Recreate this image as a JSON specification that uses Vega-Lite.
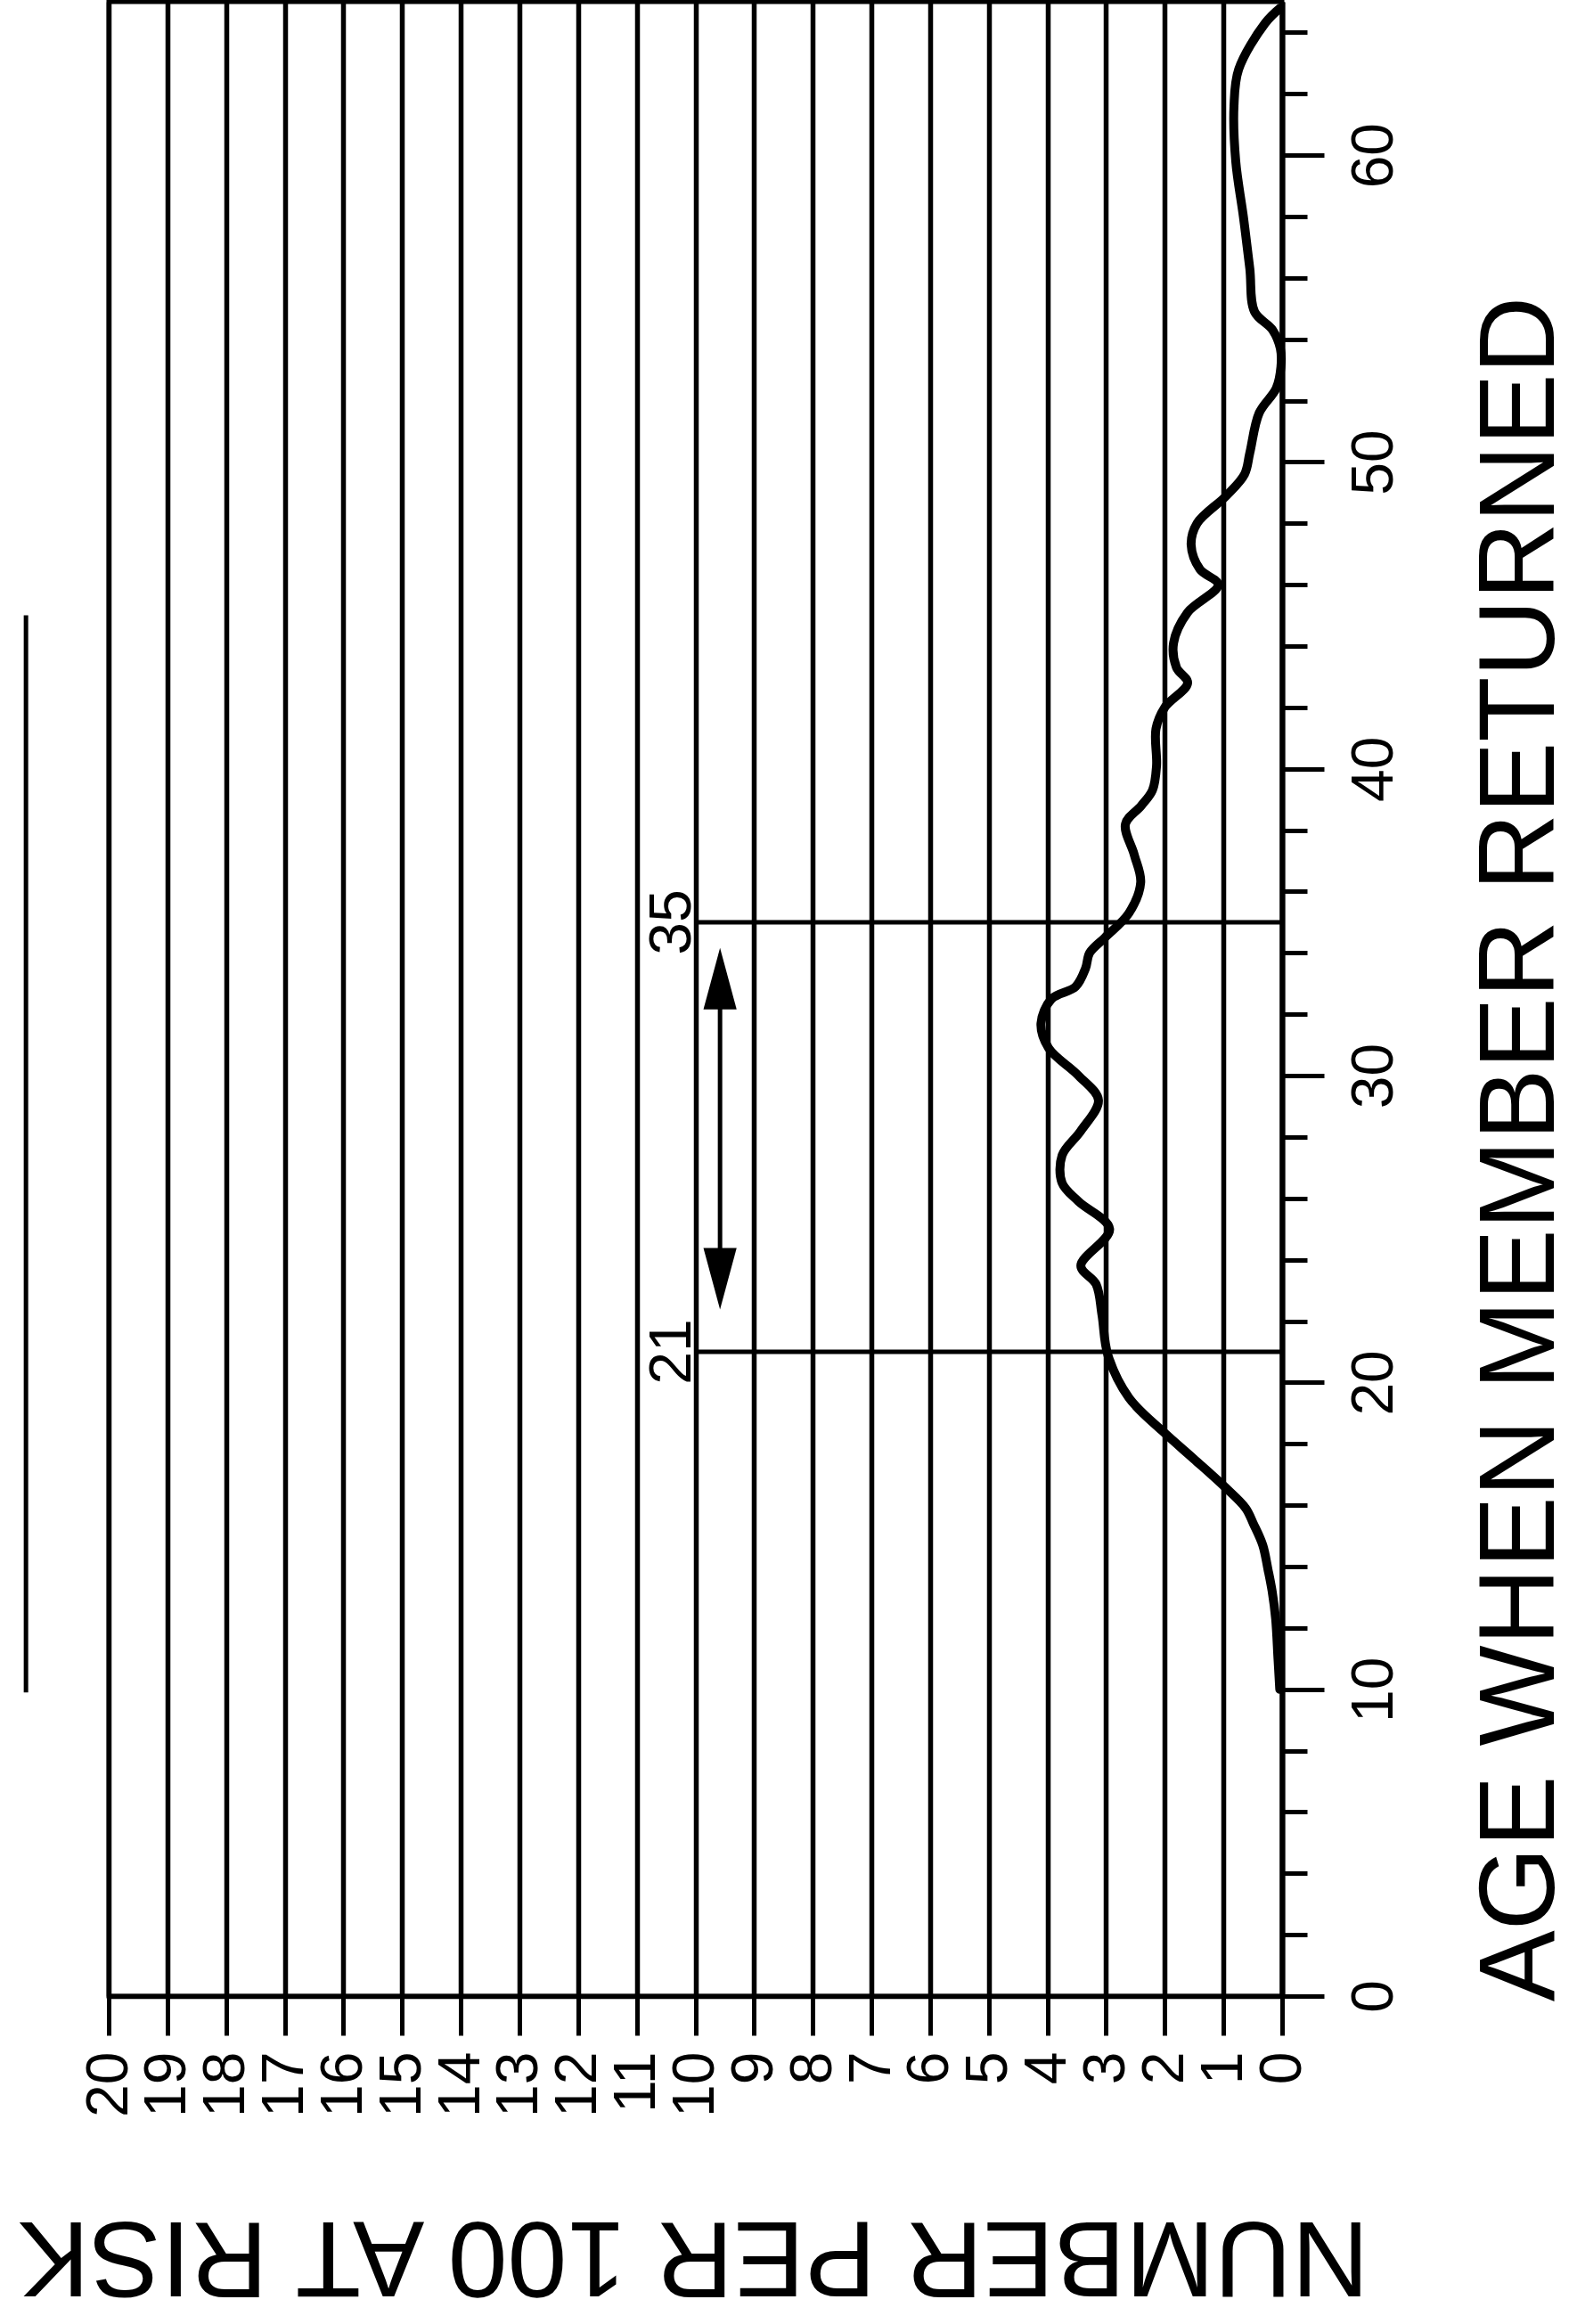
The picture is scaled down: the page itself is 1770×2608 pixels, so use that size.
{
  "$schema": "https://vega.github.io/schema/vega-lite/v6.json",
  "width": 1317,
  "height": 2238,
  "autosize": {"type": "none"},
  "padding": {"left": 122, "top": 2, "right": 331, "bottom": 368},
  "background": "white",
  "config": {
    "view": {"stroke": "black", "strokeWidth": 5},
    "font": "Liberation Sans"
  },
  "datasets": {
    "curve": [
      {"age": 10.0, "number": 0.04},
      {"age": 11.0, "number": 0.07},
      {"age": 12.3, "number": 0.11},
      {"age": 13.2, "number": 0.17},
      {"age": 13.9, "number": 0.24},
      {"age": 14.7, "number": 0.33},
      {"age": 15.4, "number": 0.49},
      {"age": 15.9, "number": 0.62},
      {"age": 16.6, "number": 0.98},
      {"age": 17.5, "number": 1.5},
      {"age": 18.4, "number": 2.03},
      {"age": 19.5, "number": 2.61},
      {"age": 20.9, "number": 2.97},
      {"age": 22.2, "number": 3.07},
      {"age": 23.2, "number": 3.17},
      {"age": 23.8, "number": 3.43},
      {"age": 25.0, "number": 2.94},
      {"age": 25.9, "number": 3.47},
      {"age": 26.5, "number": 3.75},
      {"age": 27.4, "number": 3.75},
      {"age": 28.2, "number": 3.43},
      {"age": 29.2, "number": 3.13},
      {"age": 30.0, "number": 3.47},
      {"age": 30.9, "number": 3.98},
      {"age": 31.7, "number": 4.11},
      {"age": 32.5, "number": 3.93},
      {"age": 32.9, "number": 3.52},
      {"age": 33.5, "number": 3.35},
      {"age": 34.0, "number": 3.28},
      {"age": 34.5, "number": 3.02},
      {"age": 35.3, "number": 2.61},
      {"age": 36.3, "number": 2.41},
      {"age": 37.2, "number": 2.52},
      {"age": 38.2, "number": 2.67},
      {"age": 38.8, "number": 2.4},
      {"age": 39.3, "number": 2.21},
      {"age": 40.1, "number": 2.14},
      {"age": 41.3, "number": 2.15},
      {"age": 42.0, "number": 2.0},
      {"age": 42.8, "number": 1.61},
      {"age": 43.3, "number": 1.8},
      {"age": 44.1, "number": 1.85},
      {"age": 45.1, "number": 1.61},
      {"age": 46.0, "number": 1.09},
      {"age": 46.5, "number": 1.4},
      {"age": 47.3, "number": 1.55},
      {"age": 48.0, "number": 1.45},
      {"age": 48.9, "number": 0.95},
      {"age": 49.6, "number": 0.64},
      {"age": 50.3, "number": 0.55},
      {"age": 51.6, "number": 0.39},
      {"age": 52.4, "number": 0.1},
      {"age": 53.1, "number": 0.02},
      {"age": 53.7, "number": 0.03},
      {"age": 54.3, "number": 0.16},
      {"age": 54.9, "number": 0.47},
      {"age": 56.3, "number": 0.55},
      {"age": 58.0, "number": 0.66},
      {"age": 59.8, "number": 0.79},
      {"age": 61.6, "number": 0.82},
      {"age": 62.8, "number": 0.74},
      {"age": 64.3, "number": 0.29},
      {"age": 64.8, "number": 0.03}
    ],
    "marks": [
      {"age": 21, "label": "21"},
      {"age": 35, "label": "35"}
    ],
    "arrowheads": [
      {"age": 33.16, "dir": "up"},
      {"age": 23.38, "dir": "down"}
    ]
  },
  "layer": [
    {
      "data": {"name": "curve"},
      "mark": {"type": "line", "color": "black", "strokeWidth": 10, "interpolate": "catmull-rom", "strokeJoin": "round", "strokeCap": "round"},
      "encoding": {
        "x": {
          "field": "number",
          "type": "quantitative",
          "scale": {"domain": [0, 20], "reverse": true, "nice": false, "zero": false},
          "axis": {
            "orient": "bottom",
            "values": [0, 1, 2, 3, 4, 5, 6, 7, 8, 9, 10, 11, 12, 13, 14, 15, 16, 17, 18, 19, 20],
            "format": "d",
            "title": "NUMBER PER 100 AT RISK",
            "grid": true,
            "gridColor": "black",
            "gridWidth": 5.5,
            "gridOpacity": 1,
            "domainColor": "black",
            "domainWidth": 5.5,
            "tickColor": "black",
            "tickWidth": 5,
            "tickSize": 44,
            "labelAngle": 270,
            "labelAlign": "right",
            "labelBaseline": "middle",
            "labelFontSize": 66,
            "labelFont": "Liberation Sans",
            "labelColor": "black",
            "labelPadding": 18,
            "labelOverlap": false,
            "labelFlush": false,
            "titleFont": "Liberation Sans",
            "titleFontSize": 120,
            "titleFontWeight": "normal",
            "titleColor": "black",
            "titleAngle": 180,
            "titleAlign": "center",
            "titleBaseline": "alphabetic",
            "titleX": 656,
            "titleY": 253
          }
        },
        "y": {
          "field": "age",
          "type": "quantitative",
          "scale": {"domain": [0, 65], "nice": false},
          "axis": {
            "orient": "right",
            "values": [0, 2, 4, 6, 8, 10, 12, 14, 16, 18, 20, 22, 24, 26, 28, 30, 32, 34, 36, 38, 40, 42, 44, 46, 48, 50, 52, 54, 56, 58, 60, 62, 64],
            "format": "d",
            "labelExpr": "datum.value % 10 === 0 ? datum.label : ''",
            "title": "AGE WHEN MEMBER RETURNED",
            "grid": false,
            "domainColor": "black",
            "domainWidth": 6,
            "tickColor": "black",
            "tickWidth": 5,
            "tickSize": {"condition": {"test": "datum.value % 10 === 0", "value": 47}, "value": 28},
            "labelAngle": 270,
            "labelAlign": "center",
            "labelBaseline": "top",
            "labelFontSize": 66,
            "labelFont": "Liberation Sans",
            "labelColor": "black",
            "labelPadding": 24,
            "labelOverlap": false,
            "labelFlush": false,
            "titleFont": "Liberation Sans",
            "titleFontSize": 120,
            "titleFontWeight": "normal",
            "titleColor": "black",
            "titleAngle": 270,
            "titleAlign": "center",
            "titleBaseline": "alphabetic",
            "titleX": 304,
            "titleY": 1287
          }
        },
        "order": {"field": "age", "type": "quantitative"}
      }
    },
    {
      "data": {"name": "marks"},
      "mark": {"type": "rule", "color": "black", "strokeWidth": 5},
      "encoding": {
        "y": {"field": "age", "type": "quantitative"},
        "x": {"datum": 10},
        "x2": {"datum": 0}
      }
    },
    {
      "data": {"name": "marks"},
      "mark": {"type": "text", "angle": 270, "align": "center", "baseline": "alphabetic", "fontSize": 66, "font": "Liberation Sans", "color": "black", "dy": -6},
      "encoding": {
        "y": {"field": "age", "type": "quantitative"},
        "x": {"datum": 10},
        "text": {"field": "label"}
      }
    },
    {
      "data": {"values": [{}]},
      "mark": {"type": "rule", "color": "black", "strokeWidth": 5},
      "encoding": {
        "x": {"datum": 9.58},
        "y": {"datum": 23.4},
        "y2": {"datum": 33.2}
      }
    },
    {
      "data": {"name": "arrowheads"},
      "mark": {"type": "point", "filled": true, "color": "black", "opacity": 1, "size": 4761, "strokeWidth": 0},
      "encoding": {
        "x": {"datum": 9.58},
        "y": {"field": "age", "type": "quantitative"},
        "shape": {
          "field": "dir",
          "type": "nominal",
          "scale": {"domain": ["up", "down"], "range": ["M0,-1L0.54,1L-0.54,1Z", "M0,1L0.54,-1L-0.54,-1Z"]},
          "legend": null
        }
      }
    },
    {
      "data": {"values": [{}]},
      "mark": {"type": "rule", "color": "black", "strokeWidth": 5},
      "encoding": {
        "x": {"datum": 21.41},
        "y": {"datum": 9.9},
        "y2": {"datum": 45.0}
      }
    }
  ]
}
